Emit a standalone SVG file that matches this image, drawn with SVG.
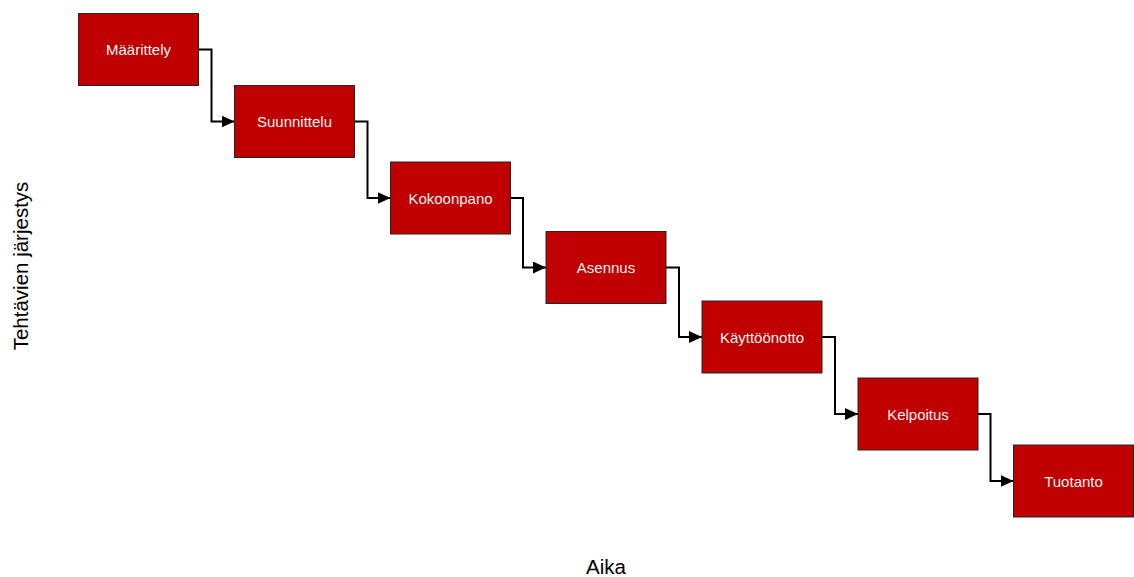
<svg xmlns="http://www.w3.org/2000/svg" width="1134" height="577" viewBox="0 0 1134 577">
  <style>
    .box { fill: #c00000; stroke: #262626; stroke-width: 1; }
    .lbl { font-family: "Liberation Sans", Arial, sans-serif; font-size: 15px; fill: #f2f2f2; text-anchor: middle; dominant-baseline: central; }
    .axis { font-family: "Liberation Sans", Arial, sans-serif; font-size: 20.5px; fill: #000; text-anchor: middle; }
    .link { fill: none; stroke: #000; stroke-width: 2; marker-end: url(#arrow); }
  </style>
  <defs>
    <marker id="arrow" viewBox="0 0 13 12" refX="13" refY="6" markerWidth="13" markerHeight="12" markerUnits="userSpaceOnUse" orient="auto">
      <path d="M0,0 L13,6 L0,12 Z" fill="#000"/>
    </marker>
  </defs>
  <rect width="1134" height="577" fill="#fff"/>

  <g id="connectors">
    <path class="link" d="M198.5,49.5 H211.5 V121.5 H234.5"/>
    <path class="link" d="M354.5,121.5 H367.5 V198 H390.5"/>
    <path class="link" d="M510.5,198 H523 V267.5 H546"/>
    <path class="link" d="M666,267.5 H679 V337 H702"/>
    <path class="link" d="M822,337 H835 V414 H858"/>
    <path class="link" d="M978,414 H990.5 V481 H1013.5"/>
  </g>

  <g id="maarittely">
    <rect class="box" x="78.5" y="13.5" width="120" height="72"/>
    <text class="lbl" x="138.5" y="49.5">Määrittely</text>
  </g>
  <g id="suunnittelu">
    <rect class="box" x="234.5" y="85.5" width="120" height="72"/>
    <text class="lbl" x="294.5" y="121.5">Suunnittelu</text>
  </g>
  <g id="kokoonpano">
    <rect class="box" x="390.5" y="162" width="120" height="72"/>
    <text class="lbl" x="450.5" y="198">Kokoonpano</text>
  </g>
  <g id="asennus">
    <rect class="box" x="546" y="231.5" width="120" height="72"/>
    <text class="lbl" x="606" y="267.5">Asennus</text>
  </g>
  <g id="kayttoonotto">
    <rect class="box" x="702" y="301" width="120" height="72"/>
    <text class="lbl" x="762" y="337">Käyttöönotto</text>
  </g>
  <g id="kelpoitus">
    <rect class="box" x="858" y="378" width="120" height="72"/>
    <text class="lbl" x="918" y="414">Kelpoitus</text>
  </g>
  <g id="tuotanto">
    <rect class="box" x="1013.5" y="445" width="120" height="72"/>
    <text class="lbl" x="1073.5" y="481">Tuotanto</text>
  </g>

  <g id="axes">
    <text class="axis" x="606" y="574">Aika</text>
    <text class="axis" transform="translate(28,266) rotate(-90)">Tehtävien järjestys</text>
  </g>
</svg>
